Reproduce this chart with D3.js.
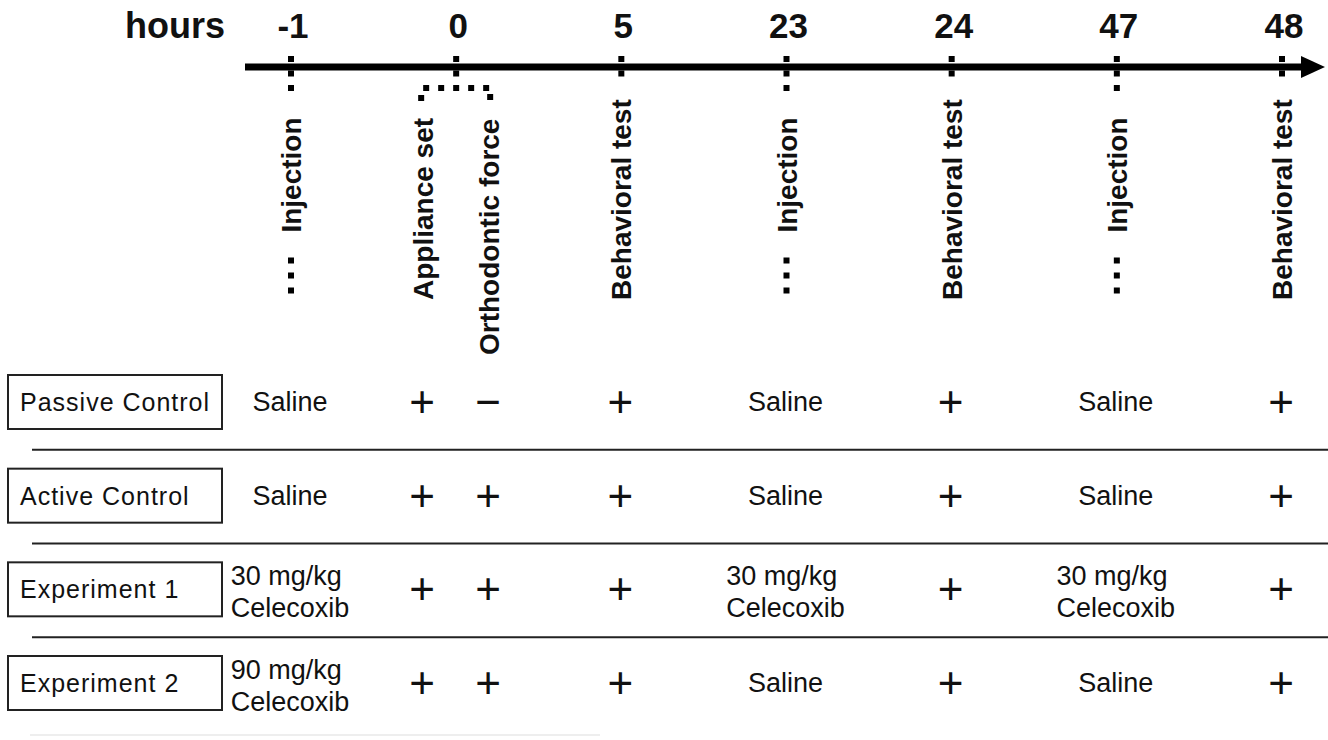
<!DOCTYPE html>
<html>
<head>
<meta charset="utf-8">
<script src="https://cdn.jsdelivr.net/npm/d3@7"></script>
<style>
  html, body { margin: 0; padding: 0; background: #fff; }
  svg { display: block; }
  text { font-family: "Liberation Sans", Arial, sans-serif; fill: #111; }
</style>
</head>
<body>
<svg id="chart" width="1328" height="740"></svg>
<script>
// ---------------- data ----------------
const axisTitle = "hours";
const timeLabels = ["-1", "0", "5", "23", "24", "47", "48"];

// events along the timeline
const eventLabels = ["Injection", "Appliance set", "Orthodontic force", "Behavioral test",
                     "Injection", "Behavioral test", "Injection", "Behavioral test"];
const eventHours  = ["-1", "0", "0", "5", "23", "24", "47", "48"];
const eventSlot   = [0, -1, 1, 0, 0, 0, 0, 0];   // sub-slot inside the same hour

// groups (rows) and their cell contents, one per event column
const groups = ["Passive Control", "Active Control", "Experiment 1", "Experiment 2"];
const passiveCells = ["Saline", "+", "\u2212", "+", "Saline", "+", "Saline", "+"];
const activeCells  = ["Saline", "+", "+", "+", "Saline", "+", "Saline", "+"];
const exp1Cells    = ["30 mg/kg|Celecoxib", "+", "+", "+", "30 mg/kg|Celecoxib", "+", "30 mg/kg|Celecoxib", "+"];
const exp2Cells    = ["90 mg/kg|Celecoxib", "+", "+", "+", "Saline", "+", "Saline", "+"];
const cellRows = [passiveCells, activeCells, exp1Cells, exp2Cells];

// ---------------- layout ----------------
const svg = d3.select("#chart");
const W = 1328;
const axisY = 67;
const x = d3.scalePoint().domain(timeLabels).range([290, 1281]);
const slotGap = 33;
const evX = i => x(eventHours[i]) + eventSlot[i] * slotGap;
const y = d3.scalePoint().domain(groups).range([402, 683]);

// header
svg.append("text").attr("x", 225).attr("y", 38).attr("text-anchor", "end")
  .style("font-size", "36px").style("font-weight", "bold").text(axisTitle);

svg.selectAll("text.tick").data(timeLabels).join("text").attr("class", "tick")
  .attr("x", d => x(d) + 3).attr("y", 38).attr("text-anchor", "middle")
  .style("font-size", "35px").style("font-weight", "bold").text(d => d);

// dotted marks (drawn before axis so the axis covers them)
const dotSize = 6;
const dots = [];
const kinds = eventLabels.map(l => l === "Injection" ? "inj" : (l === "Behavioral test" ? "beh" : "zero"));
timeLabels.forEach(t => {
  const i = eventHours.indexOf(t);
  const cx = x(t) + 1;
  if (kinds[i] === "inj") {
    [59, 73.5, 88, 260.5, 275.5, 290.5].forEach(cy => dots.push([cx, cy]));
  } else if (kinds[i] === "beh") {
    [59, 73.5].forEach(cy => dots.push([cx, cy]));
  } else {
    [59, 73.5].forEach(cy => dots.push([cx, cy]));
    d3.range(-2, 3).forEach(k => dots.push([cx + k * 15, 88]));
    dots.push([cx - 35, 98]);
    dots.push([cx + 34, 97]);
  }
});
svg.selectAll("rect.dot").data(dots).join("rect").attr("class", "dot")
  .attr("x", d => d[0] - dotSize / 2).attr("y", d => d[1] - dotSize / 2)
  .attr("width", dotSize).attr("height", dotSize).attr("fill", "#000");

// time axis with arrow
svg.append("line").attr("x1", 245).attr("x2", 1306).attr("y1", axisY).attr("y2", axisY)
  .attr("stroke", "#000").attr("stroke-width", 7);
svg.append("path").attr("d", `M1301,${axisY - 11} L1325,${axisY} L1301,${axisY + 11} Z`).attr("fill", "#000");

// rotated event labels
eventLabels.forEach((lab, i) => {
  let anchor = "start", ty = 300;
  if (lab === "Injection") { anchor = "middle"; ty = 175; }
  if (lab === "Orthodontic force") { ty = 355; }
  svg.append("text")
    .attr("transform", `translate(${evX(i) + 11},${ty}) rotate(-90)`)
    .attr("text-anchor", anchor)
    .style("font-size", "28px").style("font-weight", "bold")
    .text(lab);
});

// row separators
const rowStep = y.step();
groups.slice(0, -1).forEach(g => {
  svg.append("line").attr("x1", 32).attr("x2", W)
    .attr("y1", y(g) + rowStep / 2 + 1).attr("y2", y(g) + rowStep / 2 + 1)
    .attr("stroke", "#222").attr("stroke-width", 2);
});
svg.append("line").attr("x1", 30).attr("x2", 600)
  .attr("y1", y(groups[groups.length - 1]) + 52).attr("y2", y(groups[groups.length - 1]) + 52)
  .attr("stroke", "#eee").attr("stroke-width", 2);

// group boxes
groups.forEach(g => {
  svg.append("rect").attr("x", 8).attr("y", y(g) - 27).attr("width", 214).attr("height", 54)
    .attr("fill", "none").attr("stroke", "#222").attr("stroke-width", 2);
  svg.append("text").attr("x", 20).attr("y", y(g) + 9)
    .style("font-size", "25px").style("letter-spacing", "1px").text(g);
});

// cells
cellRows.forEach((row, r) => {
  const cy = y(groups[r]);
  row.forEach((cell, c) => {
    const cx = evX(c);
    if (cell === "+" || cell === "\u2212") {
      svg.append("text").attr("x", cx).attr("y", cy + 15).attr("text-anchor", "middle")
        .style("font-size", "44px").text(cell);
    } else if (cell.includes("|")) {
      const lines = cell.split("|");
      const t = svg.append("text").style("font-size", "27px");
      lines.forEach((ln, k) => {
        t.append("tspan").attr("x", 0).attr("y", cy - 4 + k * 32).text(ln);
      });
      const w = t.node().getBBox().width;
      t.selectAll("tspan").attr("x", cx - w / 2);
    } else {
      svg.append("text").attr("x", cx).attr("y", cy + 9).attr("text-anchor", "middle")
        .style("font-size", "27px").text(cell);
    }
  });
});
</script>
</body>
</html>
